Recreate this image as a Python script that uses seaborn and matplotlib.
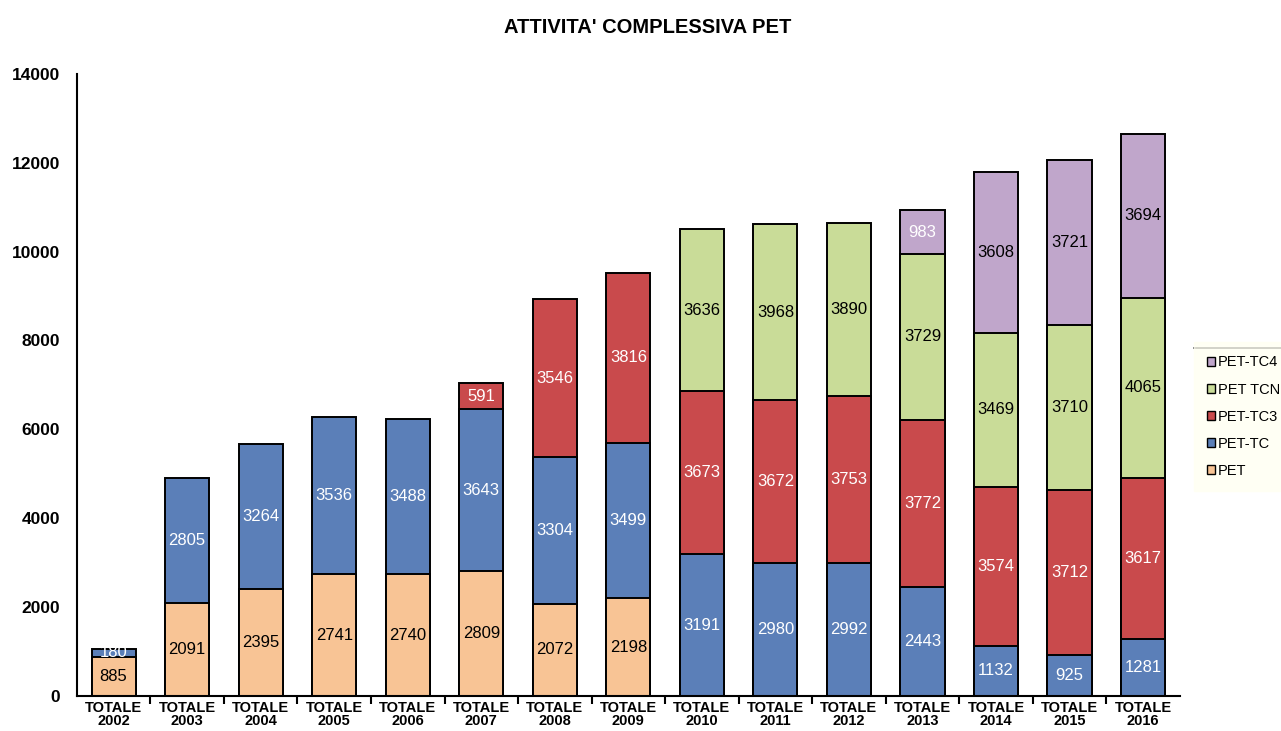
import matplotlib
matplotlib.use('Agg')
import matplotlib.pyplot as plt
import numpy as np
import pandas as pd
import seaborn as sns
from matplotlib.patches import Patch
from matplotlib.lines import Line2D

years = ['2002', '2003', '2004', '2005', '2006', '2007', '2008', '2009',
         '2010', '2011', '2012', '2013', '2014', '2015', '2016']
pet = [885, 2091, 2395, 2741, 2740, 2809, 2072, 2198, 0, 0, 0, 0, 0, 0, 0]
pet_tc = [180, 2805, 3264, 3536, 3488, 3643, 3304, 3499, 3191, 2980, 2992, 2443, 1132, 925, 1281]
pet_tc3 = [0, 0, 0, 0, 0, 591, 3546, 3816, 3673, 3672, 3753, 3772, 3574, 3712, 3617]
pet_tcn = [0, 0, 0, 0, 0, 0, 0, 0, 3636, 3968, 3890, 3729, 3469, 3710, 4065]
pet_tc4 = [0, 0, 0, 0, 0, 0, 0, 0, 0, 0, 0, 983, 3608, 3721, 3694]

series_names = ['PET', 'PET-TC', 'PET-TC3', 'PET TCN', 'PET-TC4']
series_vals = [pet, pet_tc, pet_tc3, pet_tcn, pet_tc4]
colors = ['#F8C495', '#5B7FB8', '#C94A4C', '#C9DC98', '#C0A6CB']
label_colors = ['black', 'white', 'white', 'black', 'black']

sns.set_theme(style='white')
plt.rcParams['font.family'] = ['Liberation Sans', 'DejaVu Sans']
plt.rcParams['text.color'] = 'black'
plt.rcParams['xtick.color'] = 'black'
plt.rcParams['ytick.color'] = 'black'

cats = ['TOTALE\n' + y for y in years]
df = pd.DataFrame(dict(zip(series_names, series_vals)), index=cats)
cum = df.cumsum(axis=1)

fig = plt.figure(figsize=(12.81, 7.31), dpi=100)
ax = fig.add_axes([0.060, 0.048, 0.861, 0.851])

# stacked bars: draw cumulative totals from the top series down
for i in range(len(series_names) - 1, -1, -1):
    name = series_names[i]
    d = pd.DataFrame({'cat': cats, 'val': cum[name].values})
    d = d[df[name].values > 0]
    sns.barplot(data=d, x='cat', y='val', order=cats, color=colors[i],
                saturation=1, width=0.6, edgecolor='black', linewidth=1.4, ax=ax)

for i, name in enumerate(series_names):
    for j in range(len(cats)):
        v = df[name].iloc[j]
        if v <= 0:
            continue
        mid = cum[name].iloc[j] - v / 2
        c = label_colors[i]
        if name == 'PET-TC4' and v < 1500:
            c = 'white'
        ax.text(j, mid, str(v), ha='center', va='center', fontsize=12, color=c)

ax.set_xlim(-0.5, len(cats) - 0.5)
ax.set_ylim(0, 14000)
ax.set_yticks(range(0, 14001, 2000))
ax.set_yticklabels([str(t) for t in range(0, 14001, 2000)], fontsize=12.5, fontweight='bold')
ax.set_xticks(range(len(cats)))
ax.set_xticklabels(cats, fontsize=10.5, fontweight='bold', linespacing=0.9)
ax.set_xticks(np.arange(0.5, len(cats) - 0.5, 1), minor=True)
ax.tick_params(axis='x', which='major', length=0, pad=4)
ax.tick_params(axis='x', which='minor', direction='out', length=6, width=1.5, color='black', bottom=True)
ax.tick_params(axis='y', length=0, left=False, pad=12)
ax.set_xlabel('')
ax.set_ylabel('')
for s in ['top', 'right']:
    ax.spines[s].set_visible(False)
for s in ['left', 'bottom']:
    ax.spines[s].set_color('black')
    ax.spines[s].set_linewidth(1.5)

fig.suptitle("ATTIVITA' COMPLESSIVA PET", x=0.506, y=0.976, fontsize=14.5, fontweight='bold', color='black')

handles = [Patch(facecolor=colors[i], edgecolor='black', label=series_names[i])
           for i in range(len(series_names) - 1, -1, -1)]
leg = fig.legend(handles=handles, loc='center left', bbox_to_anchor=(0.932, 0.43),
                 frameon=True, fontsize=10.5, handlelength=0.55, handleheight=0.55,
                 handletextpad=0.2, labelspacing=0.9, borderpad=0.9, borderaxespad=0,
                 fancybox=False)
leg.get_frame().set_facecolor('#FFFFF2')
leg.get_frame().set_edgecolor('#FFFFF2')
fig.add_artist(Line2D([0.932, 1.0], [0.524, 0.524], color='black', linewidth=1.2,
                      transform=fig.transFigure))

fig.savefig('out.png', dpi=100)
